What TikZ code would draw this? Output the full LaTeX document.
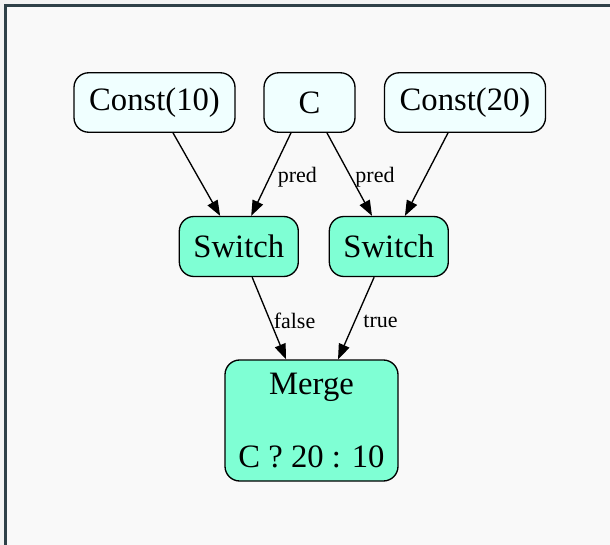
\documentclass[tikz,border=0pt]{standalone}
\usepackage{fontspec}
\setmainfont{Liberation Serif}
\usetikzlibrary{arrows.meta}
\definecolor{framecol}{HTML}{2F4148}
\definecolor{pagebg}{HTML}{F9F9F9}
\definecolor{outerbg}{HTML}{F3F3F3}
\definecolor{constfill}{HTML}{F0FFFF}
\definecolor{opfill}{HTML}{7FFFD4}
\tikzset{
  x=0.75pt, y=-0.75pt,
  graphnode/.style={draw=black, line width=1pt, rounded corners=11pt,
    inner sep=0pt, align=center, font=\fontsize{24.5}{27}\selectfont},
  constnode/.style={graphnode, fill=constfill, minimum height=44.6pt},
  opnode/.style={graphnode, fill=opfill},
  flow/.style={draw=black, line width=1pt,
    -{Triangle[length=11.5pt,width=8.5pt]}},
  edgelabel/.style={font=\fontsize{16.5}{18}\selectfont, inner sep=0pt, anchor=west,
    yshift=-2pt}
}
\begin{document}
\begin{tikzpicture}
  % canvas and frame
  \useasboundingbox (0,0) rectangle (610,545);
  \fill[outerbg] (0,0) rectangle (610,545);
  \fill[pagebg] (5.5,5.5) rectangle (610,545);
  \draw[framecol, line width=2pt] (5.5,545) -- (5.5,5.5) -- (610,5.5);

  % nodes
  \node[constnode, minimum width=120.75pt] (c10) at (154.5,102.5) {Const(10)};
  \node[constnode, minimum width=68.25pt] (c) at (309.5,102.5) {C};
  \node[constnode, minimum width=120.75pt] (c20) at (465,102.5) {Const(20)};
  \node[opnode, minimum width=89.25pt, minimum height=45pt] (swl) at (238.8,246.5) {Switch};
  \node[opnode, minimum width=89.25pt, minimum height=45pt] (swr) at (388.8,246.5) {Switch};
  \node[opnode, minimum width=129.75pt, minimum height=90.75pt] (merge) at (311.5,420.5)
    {Merge\\[27.75pt]C ? 20 : 10};

  % edges
  \draw[flow] ([xshift=13.9pt]c10.south) -- ([xshift=-14pt]swl.north);
  \draw[flow] ([xshift=-13.9pt]c.south) -- ([xshift=9.3pt]swl.north)
    node[edgelabel, pos=0.5, xshift=4.5pt] {pred};
  \draw[flow] ([xshift=13.1pt]c.south) -- ([xshift=-12.6pt]swr.north)
    node[edgelabel, pos=0.5, xshift=4pt] {pred};
  \draw[flow] ([xshift=-12.75pt]c20.south) -- ([xshift=12.1pt]swr.north);
  \draw[flow] ([xshift=10pt]swl.south) -- ([xshift=-19.1pt]merge.north)
    node[edgelabel, pos=0.5, xshift=3pt] {false};
  \draw[flow] ([xshift=-11pt]swr.south) -- ([xshift=19.9pt]merge.north)
    node[edgelabel, pos=0.5, xshift=5pt] {true};
\end{tikzpicture}
\end{document}
